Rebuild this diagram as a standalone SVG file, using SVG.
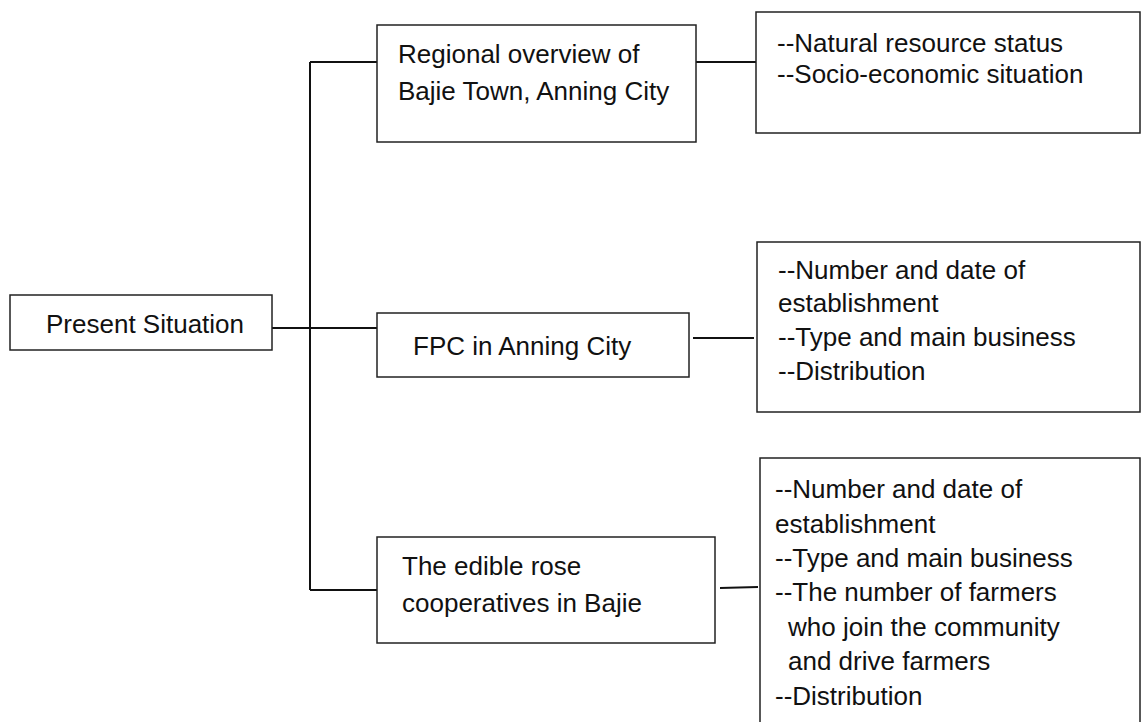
<svg xmlns="http://www.w3.org/2000/svg" width="1141" height="722" viewBox="0 0 1141 722">
<style>
.box{fill:#fff;stroke:#222;stroke-width:1.5}
.ln{fill:none;stroke:#111;stroke-width:2}
text{font-family:"Liberation Sans",Arial,sans-serif;font-size:26px;fill:#111}
</style>
<rect width="1141" height="722" fill="#fff"/>
<g id="connectors">
<line class="ln" x1="272" y1="328" x2="377" y2="328"/>
<line class="ln" x1="310" y1="62" x2="310" y2="590"/>
<line class="ln" x1="310" y1="62" x2="377" y2="62"/>
<line class="ln" x1="310" y1="590" x2="377" y2="590"/>
<line class="ln" x1="696" y1="62" x2="756" y2="62"/>
<line class="ln" x1="693" y1="338" x2="754" y2="338"/>
<line class="ln" x1="720" y1="588" x2="758" y2="587"/>
</g>
<g id="present">
<rect class="box" x="10" y="295" width="262" height="55"/>
<text x="46" y="333">Present Situation</text>
</g>
<g id="regional">
<rect class="box" x="377" y="25" width="319" height="117"/>
<text x="398" y="63">Regional overview of</text>
<text x="398" y="100">Bajie Town, Anning City</text>
</g>
<g id="fpc">
<rect class="box" x="377" y="313" width="312" height="64"/>
<text x="413" y="355">FPC in Anning City</text>
</g>
<g id="edible">
<rect class="box" x="377" y="537" width="338" height="106"/>
<text x="402" y="575">The edible rose</text>
<text x="402" y="612">cooperatives in Bajie</text>
</g>
<g id="detail1">
<rect class="box" x="756" y="12" width="384" height="121"/>
<text x="777" y="52">--Natural resource status</text>
<text x="777" y="83">--Socio-economic situation</text>
</g>
<g id="detail2">
<rect class="box" x="757" y="242" width="383" height="170"/>
<text x="778" y="279">--Number and date of</text>
<text x="778" y="312">establishment</text>
<text x="778" y="346">--Type and main business</text>
<text x="778" y="380">--Distribution</text>
</g>
<g id="detail3">
<rect class="box" x="760" y="458" width="380" height="280"/>
<text x="775" y="498">--Number and date of</text>
<text x="775" y="533">establishment</text>
<text x="775" y="567">--Type and main business</text>
<text x="775" y="601">--The number of farmers</text>
<text x="788" y="636">who join the community</text>
<text x="788" y="670">and drive farmers</text>
<text x="775" y="705">--Distribution</text>
</g>
</svg>
